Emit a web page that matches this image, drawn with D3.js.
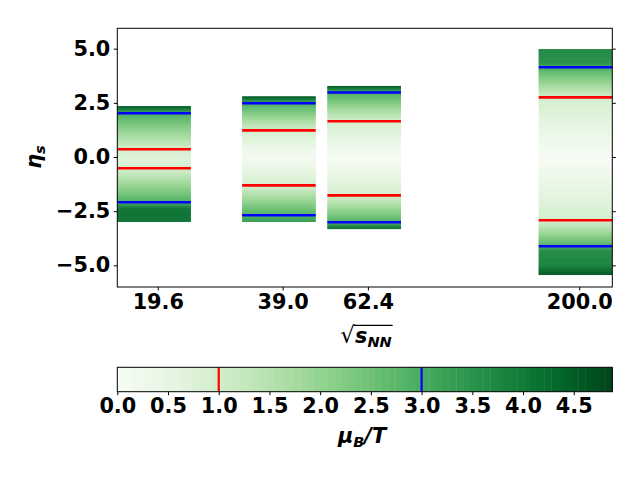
<!DOCTYPE html>
<html>
<head>
<meta charset="utf-8">
<script src="https://cdn.jsdelivr.net/npm/d3@7"></script>
<style>
body { margin: 0; background: #fff; }
text { font-family: "DejaVu Sans", sans-serif; font-weight: bold; }
</style>
</head>
<body>
<svg width="640" height="480"></svg>
<script>
// collision energies and bar extents in eta_s
var energies = [19.6, 39.0, 62.4, 200.0];
var etaTop = [2.35, 2.80, 3.28, 4.98];
var etaBottom = [-2.98, -2.98, -3.31, -5.43];
// eta_s where mu_B/T = 1 (red) and mu_B/T = 3 (blue)
var redLines = [[0.355, -0.52], [1.23, -1.31], [1.65, -1.77], [2.75, -2.92]];
var blueLines = [[2.02, -2.09], [2.48, -2.69], [2.98, -3.01], [4.14, -4.12]];
// mu_B/T
var profileEta = [
	[-2.98, -2.4, -2.25, -2.09, -0.52, -0.08, 0.355, 2.02, 2.2, 2.35],
	[-2.98, -2.69, -1.31, 0.0, 1.23, 2.48, 2.80],
	[-3.31, -3.01, -1.77, -0.05, 1.65, 2.98, 3.28],
	[-5.43, -5.0, -4.3, -4.12, -2.92, 0.0, 2.75, 4.14, 4.35, 4.98]
];
var profileMu = [
	[4.2, 4.2, 3.7, 3.0, 1.0, 0.75, 1.0, 3.0, 3.9, 4.6],
	[3.4, 3.0, 1.0, 0.1, 1.0, 3.0, 4.6],
	[4.4, 3.0, 1.0, 0.05, 1.0, 3.0, 4.6],
	[4.7, 3.9, 3.7, 3.0, 1.0, 0.03, 1.0, 3.0, 3.6, 3.8]
];
var yTicks = [-5.0, -2.5, 0.0, 2.5, 5.0];
var cbTicks = [0.0, 0.5, 1.0, 1.5, 2.0, 2.5, 3.0, 3.5, 4.0, 4.5];
var muMax = 4.88;
var nBands = 73;

var svg = d3.select('svg');
var fs = 20.8;

var x = d3.scaleLog().domain([15.68, 240]).range([117.3, 612.3]);
var y = d3.scaleLinear().domain([-6.0, 5.94]).range([287, 28.3]);
var color = d3.scaleSequential(d3.interpolateGreens).domain([0, muMax]);
var bandStep = muMax / nBands;
function bandColor(mu){
	var b = Math.min(nBands - 1, Math.max(0, Math.floor(mu / bandStep)));
	return color((b + 0.5) * bandStep);
}

svg.append('clipPath').attr('id', 'plotclip').append('rect')
	.attr('x', x.range()[0]).attr('y', y.range()[1])
	.attr('width', x.range()[1] - x.range()[0]).attr('height', y.range()[0] - y.range()[1]);

var plot = svg.append('g').attr('clip-path', 'url(#plotclip)');

energies.forEach(function(e, i){
	var muOf = d3.scaleLinear().domain(profileEta[i]).range(profileMu[i]).clamp(true);
	var x0 = x(e * 0.8), x1 = x(e * 1.2);
	var g = plot.append('g');
	var dEta = 0.02;
	var steps = d3.range(etaBottom[i], etaTop[i], dEta);
	g.selectAll('rect').data(steps).enter().append('rect')
		.attr('x', x0).attr('width', x1 - x0)
		.attr('y', d => y(Math.min(d + dEta, etaTop[i])))
		.attr('height', d => y(d) - y(Math.min(d + dEta, etaTop[i])) + 0.4)
		.attr('fill', d => bandColor(muOf(d + dEta / 2)));
	redLines[i].forEach(function(v){
		g.append('line').attr('x1', x0).attr('x2', x1).attr('y1', y(v)).attr('y2', y(v))
			.attr('stroke', '#ff0000').attr('stroke-width', 2.6);
	});
	blueLines[i].forEach(function(v){
		g.append('line').attr('x1', x0).attr('x2', x1).attr('y1', y(v)).attr('y2', y(v))
			.attr('stroke', '#0000ff').attr('stroke-width', 2.6);
	});
});

// frame
svg.append('rect').attr('x', 117.3).attr('y', 28.3).attr('width', 495).attr('height', 287 - 28.3)
	.attr('fill', 'none').attr('stroke', '#000').attr('stroke-width', 1);

// axes
var yAxisL = d3.axisLeft(y).tickValues(yTicks).tickFormat(d3.format('.1f')).tickSize(3.5).tickPadding(3.5);
var yAxisR = d3.axisRight(y).tickValues(yTicks).tickFormat('').tickSize(3.5);
var xAxis = d3.axisBottom(x).tickValues(energies).tickFormat(d3.format('.1f')).tickSize(3.5).tickPadding(3.5);

function styleAxis(g){
	g.select('.domain').remove();
	g.selectAll('.tick line').attr('stroke', '#000');
	g.selectAll('.tick text').attr('fill', '#000').style('font-size', fs + 'px')
		.text(function(){ return this.textContent.replace('-', '\u2212'); });
}
svg.append('g').attr('transform', 'translate(117.3,0)').call(yAxisL).call(styleAxis);
svg.append('g').attr('transform', 'translate(612.3,0)').call(yAxisR).call(styleAxis);
svg.append('g').attr('transform', 'translate(0,287)').call(xAxis).call(styleAxis);

// axis labels
svg.append('text').attr('transform', 'translate(41,157) rotate(-90)')
	.attr('text-anchor', 'middle').style('font-size', fs + 'px').style('font-style', 'italic')
	.html('η<tspan dy="4" style="font-size:14.5px">s</tspan>');

var xl = svg.append('text').attr('x', 346).attr('y', 343)
	.style('font-size', fs + 'px').style('font-style', 'italic')
	.html('<tspan style="font-style:normal;font-weight:normal;font-size:23px">\u221a</tspan><tspan>s</tspan><tspan dy="4" style="font-size:14.5px">NN</tspan>');
var sq = xl.select('tspan').node().getComputedTextLength();
var xlw = xl.node().getComputedTextLength();
xl.attr('x', 366 - xlw / 2);
svg.append('line').attr('x1', 366 - xlw / 2 + sq - 1).attr('x2', 366 + xlw / 2 + 1)
	.attr('y1', 325.3).attr('y2', 325.3).attr('stroke', '#000').attr('stroke-width', 1.2);

// colorbar
var cx = d3.scaleLinear().domain([0, muMax]).range([117.3, 612.3]);
var cbY = 367.3, cbH = 24.4;
svg.append('g').selectAll('rect').data(d3.range(nBands)).enter().append('rect')
	.attr('x', d => cx(d * bandStep)).attr('y', cbY)
	.attr('width', d => cx((d + 1) * bandStep) - cx(d * bandStep) + 0.4).attr('height', cbH)
	.attr('fill', d => color((d + 0.5) * bandStep));
svg.append('line').attr('x1', cx(1)).attr('x2', cx(1)).attr('y1', cbY).attr('y2', cbY + cbH)
	.attr('stroke', '#ff0000').attr('stroke-width', 2.2);
svg.append('line').attr('x1', cx(3)).attr('x2', cx(3)).attr('y1', cbY).attr('y2', cbY + cbH)
	.attr('stroke', '#0000ff').attr('stroke-width', 2.2);
svg.append('rect').attr('x', 117.3).attr('y', cbY).attr('width', 495).attr('height', cbH)
	.attr('fill', 'none').attr('stroke', '#000').attr('stroke-width', 1);
var cbAxis = d3.axisBottom(cx).tickValues(cbTicks).tickFormat(d3.format('.1f')).tickSize(3.5).tickPadding(3.5);
svg.append('g').attr('transform', 'translate(0,' + (cbY + cbH) + ')').call(cbAxis).call(styleAxis);

svg.append('text').attr('x', 362).attr('y', 443).attr('text-anchor', 'middle')
	.style('font-size', fs + 'px').style('font-style', 'italic')
	.html('μ<tspan dy="4" style="font-size:14.5px">B</tspan><tspan dy="-4">/T</tspan>');
</script>
</body>
</html>
